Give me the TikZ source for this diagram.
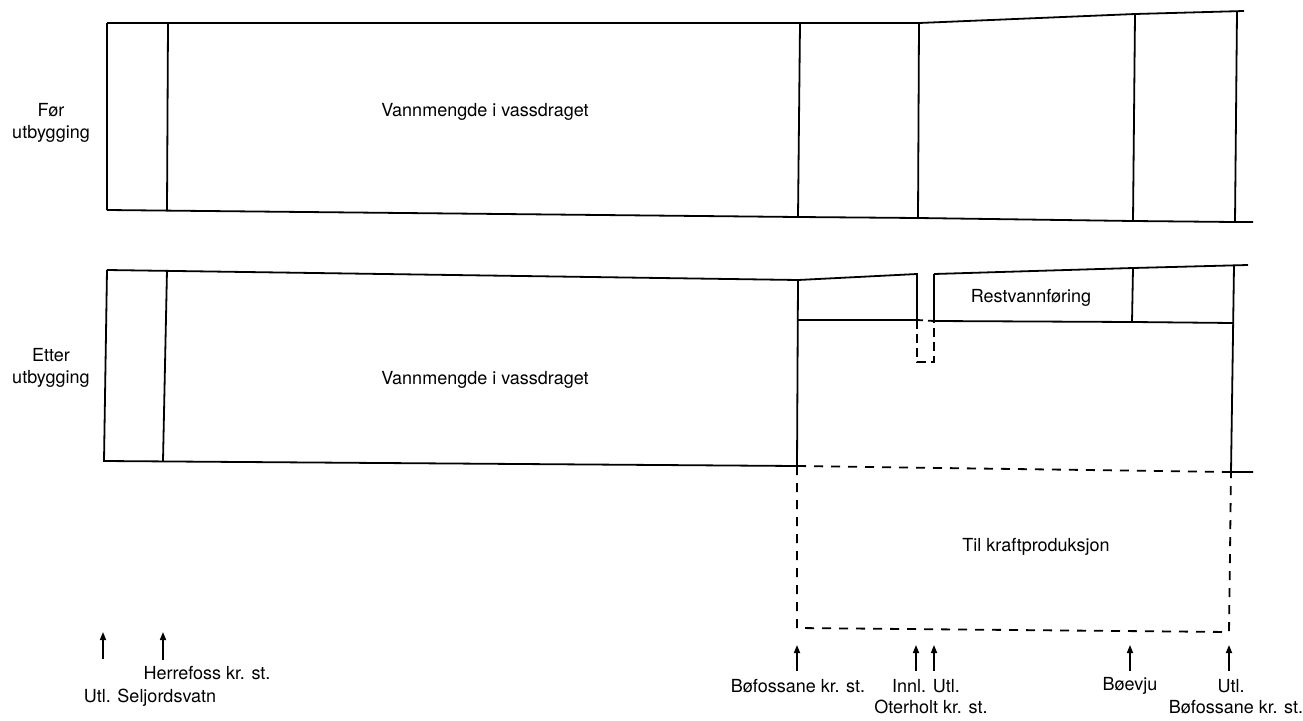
\documentclass[tikz,border=0pt]{standalone}
\usepackage{fontspec}
\setmainfont{TeX Gyre Heros}
\usetikzlibrary{arrows.meta}
\begin{document}
\begin{tikzpicture}[x=1pt,y=-1pt,
  ln/.style={line width=1.8pt,line join=miter},
  dsh/.style={line width=1.8pt,dash pattern=on 9pt off 8pt},
  lbl/.style={font=\fontsize{18}{22}\selectfont,inner sep=0pt,align=center},
  upar/.style={line width=1.6pt,-{Triangle[length=8pt,width=6pt]}}]
\useasboundingbox (0,0) rectangle (1303,720);
% ---------- top panel (Før utbygging) ----------
\draw[ln] (107,23) -- (798,23) -- (919,23) -- (1135,14) -- (1244,11);
\draw[ln] (107,210) -- (798,217) -- (918,218) -- (1133,221) -- (1235,222) -- (1253,222);
\draw[ln] (107,23) -- (107,210);
\draw[ln] (168,23) -- (167,210);
\draw[ln] (800,23) -- (798,217);
\draw[ln] (919,23) -- (918,218);
\draw[ln] (1135,14) -- (1133,221);
\draw[ln] (1237,11) -- (1235,222);
\node[lbl] (for) at (51,123) {Før\\utbygging};
\node[lbl] (v1) at (485,112) {Vannmengde i vassdraget};
% ---------- bottom panel (Etter utbygging) ----------
\draw[ln] (107,270) -- (798,280) -- (917,274) -- (917,320) -- (798,320);
\draw[ln] (934,274) -- (1133,268) -- (1248,265);
\draw[ln] (934,274) -- (934,321) -- (1133,322) -- (1233,323);
\draw[ln] (1133,268) -- (1132,322);
\draw[ln] (1234,265) -- (1231,472) -- (1253,472);
\draw[ln] (107,270) -- (104,461) -- (797,466) -- (798,280);
\draw[ln] (167,270) -- (163,461);
\draw[dsh,dash pattern=on 6pt off 5pt] (917,320) -- (934,321);
\draw[dsh,dash pattern=on 9pt off 5pt] (917,320) -- (917,362) -- (934,362) -- (934,321);
\draw[dsh] (797,466) -- (1231,472);
\draw[dsh] (797,466) -- (797,628) -- (1229,632) -- (1231,472);
\node[lbl] (etter) at (51,368) {Etter\\utbygging};
\node[lbl] (v2) at (485,380) {Vannmengde i vassdraget};
\node[lbl] (rest) at (1031,298) {Restvannføring};
\node[lbl] (kraft) at (1036,547) {Til kraftproduksjon};
% ---------- arrows and place names ----------
\coordinate (a1) at (103,632); \coordinate (a1t) at (103,659);
\coordinate (a2) at (163,632); \coordinate (a2t) at (163,660);
\coordinate (b1) at (797,645); \coordinate (b1t) at (797,671);
\coordinate (b2) at (916,645); \coordinate (b2t) at (916,671);
\coordinate (b3) at (934,645); \coordinate (b3t) at (934,671);
\coordinate (b4) at (1130,645); \coordinate (b4t) at (1130,671);
\coordinate (b5) at (1229,645); \coordinate (b5t) at (1229,671);
\foreach \p in {a1,a2,b1,b2,b3,b4,b5}{\draw[upar] (\p t) -- (\p);}
\node[lbl] (herre) at (207,673) {Herrefoss kr. st.};
\node[lbl] (selj) at (150,698) {Utl. Seljordsvatn};
\node[lbl] (bof1) at (798,686) {Bøfossane kr. st.};
\node[lbl] (innl) at (926,686) {Innl. Utl.};
\node[lbl] (oter) at (931,707) {Oterholt kr. st.};
\node[lbl] (boev) at (1130,686) {Bøevju};
\node[lbl] (utl) at (1231,686) {Utl.};
\node[lbl] (bof2) at (1236,707) {Bøfossane kr. st.};
\end{tikzpicture}
\end{document}
